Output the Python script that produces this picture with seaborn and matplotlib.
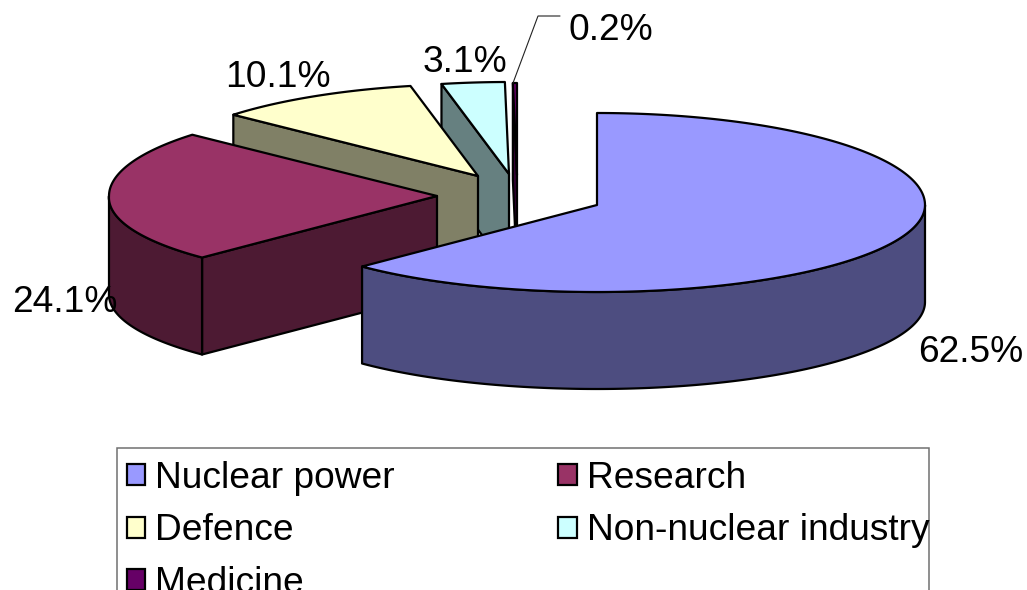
import numpy as np
import matplotlib
matplotlib.use("Agg")
import matplotlib.pyplot as plt
from matplotlib.patches import Patch, Rectangle
import seaborn as sns

categories = ["Nuclear power", "Research", "Defence", "Non-nuclear industry", "Medicine"]
shares = [62.5, 24.1, 10.1, 3.1, 0.2]
top_colors = ["#9999FF", "#993366", "#FFFFCC", "#CCFFFF", "#660066"]
side_colors = ["#4D4D80", "#4D1A33", "#808066", "#668080", "#330033"]

sns.set_theme(style="white")
plt.rcParams["font.family"] = ["Liberation Sans", "DejaVu Sans"]

# layout of the projected pie, in image pixels
APEX = [(597, 205), (437, 196), (478, 176), (509, 174), (517, 175)]
RX, RY_BACK, RY_FRONT, DEPTH = 328, 92, 87, 97
LABEL_POS = [(918, 362), (12, 312), (225, 87), (423, 72), (568, 40)]
LW = 1.6

fig = plt.figure(figsize=(10.27, 5.9), dpi=100)
ax = fig.add_axes([0, 0, 1, 1])
ax.set_xlim(0, 1027)
ax.set_ylim(590, 0)
ax.axis("off")


def rim(apex, t):
    s, c = np.sin(t), np.cos(t)
    # slight perspective: the near half is flatter, the near left bulges out
    ry = np.where(c < 0, RY_FRONT, RY_BACK)
    bulge = np.where((c < 0) & (s < 0), 6 * s * c, 0)
    return apex[0] + RX * s - bulge, apex[1] - ry * c


edges = np.radians(np.concatenate([[0], np.cumsum(shares) / np.sum(shares) * 360]))
style = dict(edgecolor="black", linewidth=LW, joinstyle="round")

# painter's order: the far, small slices first, the large front slice last
for i in range(len(shares) - 1, -1, -1):
    t0, t1 = edges[i], edges[i + 1]
    apex = APEX[i]
    if i > 0:  # the cut face at the start angle looks towards the viewer
        x0, y0 = rim(apex, t0)
        ax.fill([apex[0], x0, x0, apex[0]],
                [apex[1], y0, y0 + DEPTH, apex[1] + DEPTH],
                facecolor=side_colors[i], zorder=2 + 5 - i, **style)
    lo, hi = max(t0, np.pi / 2), min(t1, 3 * np.pi / 2)
    if hi > lo:  # the outer wall, only where it faces the viewer
        t = np.linspace(lo, hi, 200)
        x, y = rim(apex, t)
        ax.fill(np.r_[x, x[::-1]], np.r_[y, y[::-1] + DEPTH],
                facecolor=side_colors[i], zorder=2 + 5 - i, **style)
    t = np.linspace(t0, t1, 300)
    x, y = rim(apex, t)
    ax.fill(np.r_[apex[0], x], np.r_[apex[1], y],
            facecolor=top_colors[i], zorder=2 + 5 - i, **style)

for value, (x, y) in zip(shares, LABEL_POS):
    ax.text(x, y, f"{value:.1f}%", fontsize=26.7, color="black",
            ha="left", va="baseline", zorder=20)

# leader of the smallest slice
ax.plot([513, 538, 560], [83, 16, 16], color="#222222", lw=0.8, zorder=20)

# legend box runs past the lower edge of the image
ax.add_patch(Rectangle((117, 448), 812, 220, facecolor="white",
                       edgecolor="#707070", linewidth=1.1, zorder=1))
order = [0, 2, 4, 1, 3]
handles = [Patch(facecolor=top_colors[i], edgecolor="black", linewidth=LW,
                 label=categories[i]) for i in order]
ax.legend(handles=handles, ncol=2, loc="upper left", frameon=False,
          bbox_to_anchor=(127 / 1027, 1 - 461 / 590),
          borderpad=0, borderaxespad=0, fontsize=26.7, labelcolor="black",
          handlelength=0.49, handleheight=0.49, handletextpad=0.27,
          columnspacing=4.41, labelspacing=0.47)

fig.savefig("out.png", dpi=100, facecolor="white")
